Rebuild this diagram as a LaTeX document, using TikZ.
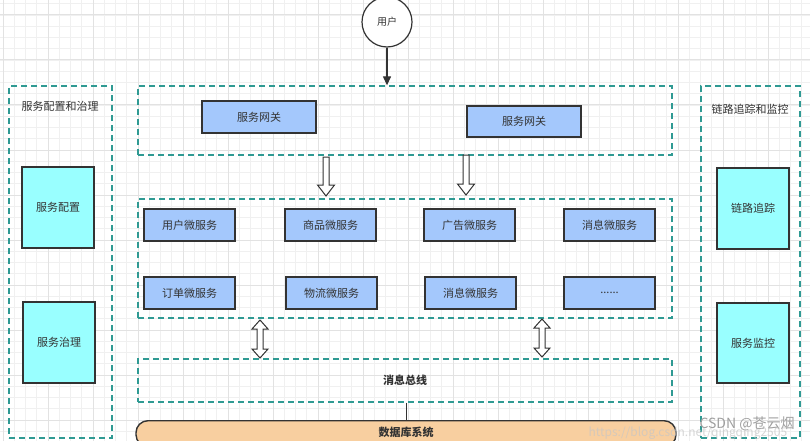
\documentclass[tikz,border=0pt]{standalone}
\usepackage{fontspec}
\setmainfont{Noto Sans CJK SC}
\usetikzlibrary{arrows.meta,calc}
\definecolor{tealdash}{HTML}{2F9A93}
\definecolor{svcblue}{HTML}{A4C8FC}
\definecolor{sidecyan}{HTML}{99FFFF}
\definecolor{peach}{HTML}{F8CFA0}
\definecolor{gridminor}{HTML}{F0F0F0}
\definecolor{gridmajor}{HTML}{E2E2E2}
\definecolor{ink}{HTML}{333333}
\newcommand\fs[1]{\fontsize{#1}{#1}\selectfont}
\newcommand\hdown[3]{\draw[hollowarrow] (#1-3,#2) -- (#1+3,#2) -- (#1+3,#3-11) -- (#1+8.5,#3-11) -- (#1,#3) -- (#1-8.5,#3-11) -- (#1-3,#3-11) -- cycle;}
\newcommand\hboth[3]{\draw[hollowarrow] (#1,#2) -- (#1+8,#2+9) -- (#1+3,#2+9) -- (#1+3,#3-9) -- (#1+8,#3-9) -- (#1,#3) -- (#1-8,#3-9) -- (#1-3,#3-9) -- (#1-3,#2+9) -- (#1-8,#2+9) -- cycle;}
\tikzset{
  region/.style={draw=tealdash, line width=1.3pt, dash pattern=on 6pt off 4pt, inner sep=0pt},
  svc/.style={draw=ink, fill=svcblue, line width=1.3pt, inner sep=0pt, text=ink, font=\fs{11}},
  side/.style={draw=ink, fill=sidecyan, line width=1.3pt, inner sep=0pt, minimum width=72pt, minimum height=81pt, text=ink, font=\fs{11}},
  title/.style={text=ink, font=\fs{11}},
  hollowarrow/.style={draw=ink, fill=white, line width=1pt, line join=miter},
}
\begin{document}
\begin{tikzpicture}[x=1pt,y=-1pt]
\useasboundingbox (0,0) rectangle (810,441);
\fill[white] (0,0) rectangle (810,441);
% grid
\foreach \i in {0,...,72} {\draw[gridminor, line width=0.8pt] ({3+11.25*\i},0) -- ({3+11.25*\i},441);}
\foreach \i in {0,...,39} {\draw[gridminor, line width=0.8pt] (0,{3.75+11.25*\i}) -- (810,{3.75+11.25*\i});}
\foreach \i in {0,...,18} {\draw[gridmajor, line width=1pt] ({3+45*\i},0) -- ({3+45*\i},441);}
\foreach \i in {0,...,9} {\draw[gridmajor, line width=1pt] (0,{15+45*\i}) -- (810,{15+45*\i});}

% user
\node[circle, draw=ink, fill=white, line width=1.2pt, minimum size=50pt, inner sep=0pt, font=\fs{10}, text=ink] (user) at (387,22) {用户};

% regions
\node[region, minimum width=534pt, minimum height=69pt] (gwbox) at (405,120.5) {};
\node[region, minimum width=534pt, minimum height=119pt] (msbox) at (405,258.5) {};
\node[region, minimum width=534pt, minimum height=43pt, font=\fs{11}\bfseries, text=ink] (bus) at (405,380.5) {消息总线};
\node[region, minimum width=103pt, minimum height=352pt] (leftbox) at (60.5,262) {};
\node[region, minimum width=99pt, minimum height=352pt] (rightbox) at (750.5,262) {};

\node[title] (lefttitle) at (60,106) {服务配置和治理};
\node[title] (righttitle) at (750,109) {链路追踪和监控};

% gateways
\node[svc, minimum width=114pt, minimum height=32pt] (gw1) at (259,117) {服务网关};
\node[svc, minimum width=114pt, minimum height=31pt] (gw2) at (524,121.5) {服务网关};

% microservices
\tikzset{ms/.style={svc, minimum width=91pt, minimum height=32pt}}
\node[ms] (m11) at (189.5,225) {用户微服务};
\node[ms] (m12) at (330.5,225) {商品微服务};
\node[ms] (m13) at (469.5,225) {广告微服务};
\node[ms] (m14) at (609.5,225) {消息微服务};
\node[ms] (m21) at (189.5,293) {订单微服务};
\node[ms] (m22) at (331.5,293) {物流微服务};
\node[ms] (m23) at (470.5,293) {消息微服务};
\node[ms] (m24) at (609.5,293) {......};

% side nodes
\node[side] (conf) at (58,207.5) {服务配置};
\node[side] (gov) at (59,342.5) {服务治理};
\node[side] (trace) at (753,208.5) {链路追踪};
\node[side, minimum height=80pt] (mon) at (753,343) {服务监控};

% database
\node[draw=ink, fill=peach, line width=1.4pt, rounded corners=12pt, minimum width=540pt, minimum height=26pt, inner sep=0pt, anchor=north] (db) at (406,420) {};
\node[font=\fs{11}\bfseries, text=ink] (dblabel) at (406,432) {数据库系统};

% connectors
\draw[ink, line width=1.2pt, -{Triangle[length=9pt,width=8pt]}] (user.south) -- (user.south |- gwbox.north);
\draw[ink, line width=1pt] (bus.south -| db.north) -- (db.north);

\hdown{326}{157}{196}
\hdown{466}{155}{195}
\hboth{260}{320}{358}
\hboth{542}{319}{357}

% watermark
\node[anchor=west, text=gray!75, font=\fs{14}] (wm1) at (696,424) {CSDN @苍云烟};
\node[anchor=west, text=gray!45, opacity=0.7, font=\fs{12}] (wm2) at (585,433) {https://blog.csdn.net/qingqing2505};
\end{tikzpicture}
\end{document}
